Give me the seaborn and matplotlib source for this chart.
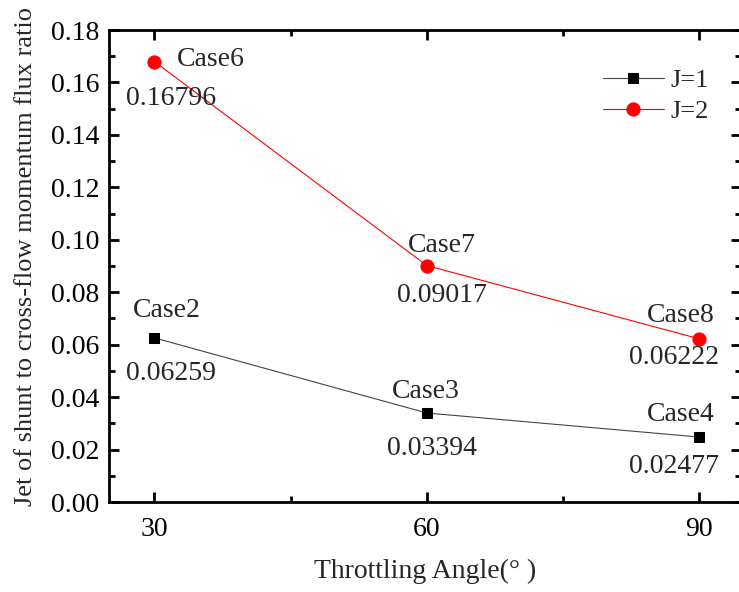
import matplotlib
matplotlib.use("Agg")
import matplotlib.pyplot as plt
from matplotlib.ticker import MultipleLocator
import seaborn as sns
import pandas as pd

angles = [30, 60, 90]
j1_values = [0.06259, 0.03394, 0.02477]
j2_values = [0.16796, 0.09017, 0.06222]
j1_cases = ["Case2", "Case3", "Case4"]
j2_cases = ["Case6", "Case7", "Case8"]
x_ticks = [30, 60, 90]
y_ticks = [0.00, 0.02, 0.04, 0.06, 0.08, 0.10, 0.12, 0.14, 0.16, 0.18]

sns.set_theme(style="ticks")
plt.rcParams["font.family"] = ["Liberation Serif", "DejaVu Serif"]

df1 = pd.DataFrame({"angle": angles, "value": j1_values})
df2 = pd.DataFrame({"angle": angles, "value": j2_values})

fig = plt.figure(figsize=(7.39, 5.92), dpi=100)
ax = fig.add_axes([109 / 739, 1 - 502 / 592, 632 / 739, 472 / 592])

sns.lineplot(data=df1, x="angle", y="value", ax=ax, color="#444444", lw=0.8,
             marker="s", markersize=7.2, markerfacecolor="black",
             markeredgecolor="black", label="J=1")
sns.lineplot(data=df2, x="angle", y="value", ax=ax, color="red", lw=0.8,
             marker="o", markersize=9.5, markerfacecolor="red",
             markeredgecolor="red", label="J=2")

ax.set_xlim(25, 94.6)
ax.set_ylim(0, 0.18)
ax.set_xticks(x_ticks)
ax.set_yticks(y_ticks)
ax.set_yticklabels([f"{v:.2f}" for v in y_ticks])
ax.xaxis.set_minor_locator(MultipleLocator(15))
ax.yaxis.set_minor_locator(MultipleLocator(0.01))
ax.tick_params(which="both", direction="in", top=True, right=True, width=2.0,
               labelsize=20, colors="black")
ax.tick_params(which="major", length=7, pad=7)
ax.tick_params(which="minor", length=4)
ax.tick_params(axis="x", which="major", pad=11)
for s in ax.spines.values():
    s.set_linewidth(2.0)
    s.set_color("black")

ax.set_xlabel("Throttling Angle(° )", fontsize=20, labelpad=12)
ax.set_ylabel("Jet of shunt to cross-flow momentum flux ratio", fontsize=19)
ax.yaxis.set_label_coords((37 - 109) / 632, (502 - 256) / 472)

# annotations: case name and value (offsets in pixels, y up)
case_offsets_j2 = [(56, 5), (15, 23), (-18, 26)]
val_offsets_j2 = [(17, -34), (15, -27), (-25, -16)]
case_offsets_j1 = [(12, 30), (-1, 25), (-18, 26)]
val_offsets_j1 = [(17, -33), (5, -32), (-25, -26)]

for x, y, c, co, vo in zip(angles, j2_values, j2_cases, case_offsets_j2, val_offsets_j2):
    ax.annotate(c, (x, y), xytext=co, textcoords="offset pixels",
                ha="center", va="center_baseline", fontsize=20)
    ax.annotate(f"{y:.5f}", (x, y), xytext=vo, textcoords="offset pixels",
                ha="center", va="center_baseline", fontsize=20)
for x, y, c, co, vo in zip(angles, j1_values, j1_cases, case_offsets_j1, val_offsets_j1):
    ax.annotate(c, (x, y), xytext=co, textcoords="offset pixels",
                ha="center", va="center_baseline", fontsize=20)
    ax.annotate(f"{y:.5f}", (x, y), xytext=vo, textcoords="offset pixels",
                ha="center", va="center_baseline", fontsize=20)

leg = ax.legend(loc="upper left", bbox_to_anchor=((603 - 109) / 632, (502 - 69) / 472),
                frameon=False, fontsize=19, handlelength=2.3, handletextpad=0.25,
                labelspacing=0.28, borderpad=0, borderaxespad=0)

fig.savefig("out.png", dpi=100)
